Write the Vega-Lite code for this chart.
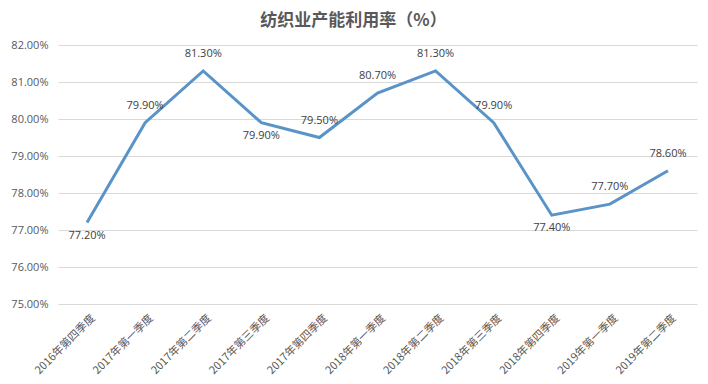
{
  "$schema": "https://vega.github.io/schema/vega-lite/v6.json",
  "autosize": "none",
  "width": 639,
  "height": 259,
  "padding": {"left": 58, "top": 45, "right": 11, "bottom": 80},
  "background": "white",
  "title": {
    "text": "纺织业产能利用率（%）",
    "font": "Noto Sans CJK SC",
    "fontSize": 17,
    "fontWeight": "bold",
    "color": "#595959",
    "anchor": "middle",
    "dx": -24,
    "offset": 9
  },
  "config": {
    "view": {"stroke": null},
    "font": "Noto Sans CJK SC"
  },
  "data": {
    "values": [
      {"q": "2016年第四季度", "v": 0.772},
      {"q": "2017年第一季度", "v": 0.799},
      {"q": "2017年第二季度", "v": 0.813},
      {"q": "2017年第三季度", "v": 0.799},
      {"q": "2017年第四季度", "v": 0.795},
      {"q": "2018年第一季度", "v": 0.807},
      {"q": "2018年第二季度", "v": 0.813},
      {"q": "2018年第三季度", "v": 0.799},
      {"q": "2018年第四季度", "v": 0.774},
      {"q": "2019年第一季度", "v": 0.777},
      {"q": "2019年第二季度", "v": 0.786}
    ]
  },
  "encoding": {
    "x": {
      "field": "q",
      "type": "ordinal",
      "sort": null,
      "scale": {"type": "point", "padding": 0.5},
      "axis": {
        "title": null,
        "labelAngle": -45,
        "labelAlign": "right",
        "labelBaseline": "middle",
        "labelFontSize": 11,
        "labelColor": "#595959",
        "labelFont": "Noto Sans CJK SC",
        "labelPadding": 12,
        "labelOffset": 6,
        "ticks": false,
        "domain": false,
        "grid": false
      }
    },
    "y": {
      "field": "v",
      "type": "quantitative",
      "scale": {"domain": [0.75, 0.82], "nice": false, "zero": false},
      "axis": {
        "title": null,
        "values": [0.75, 0.76, 0.77, 0.78, 0.79, 0.80, 0.81, 0.82],
        "format": ".2%",
        "labelFontSize": 11,
        "labelColor": "#595959",
        "labelFont": "Open Sans",
        "labelPadding": 10,
        "ticks": false,
        "domain": false,
        "grid": true,
        "gridColor": "#d9d9d9",
        "gridWidth": 1
      }
    }
  },
  "layer": [
    {
      "mark": {"type": "line", "color": "#5a93c8", "strokeWidth": 3}
    },
    {
      "transform": [{"filter": {"not": {"field": "q", "oneOf": ["2016年第四季度", "2017年第三季度", "2018年第四季度"]}}}],
      "mark": {"type": "text", "dy": -17, "fontSize": 11, "color": "#404040", "font": "Open Sans"},
      "encoding": {"text": {"field": "v", "type": "quantitative", "format": ".2%"}}
    },
    {
      "transform": [{"filter": {"field": "q", "oneOf": ["2016年第四季度", "2017年第三季度", "2018年第四季度"]}}],
      "mark": {"type": "text", "dy": 13, "fontSize": 11, "color": "#404040", "font": "Open Sans"},
      "encoding": {"text": {"field": "v", "type": "quantitative", "format": ".2%"}}
    }
  ]
}
